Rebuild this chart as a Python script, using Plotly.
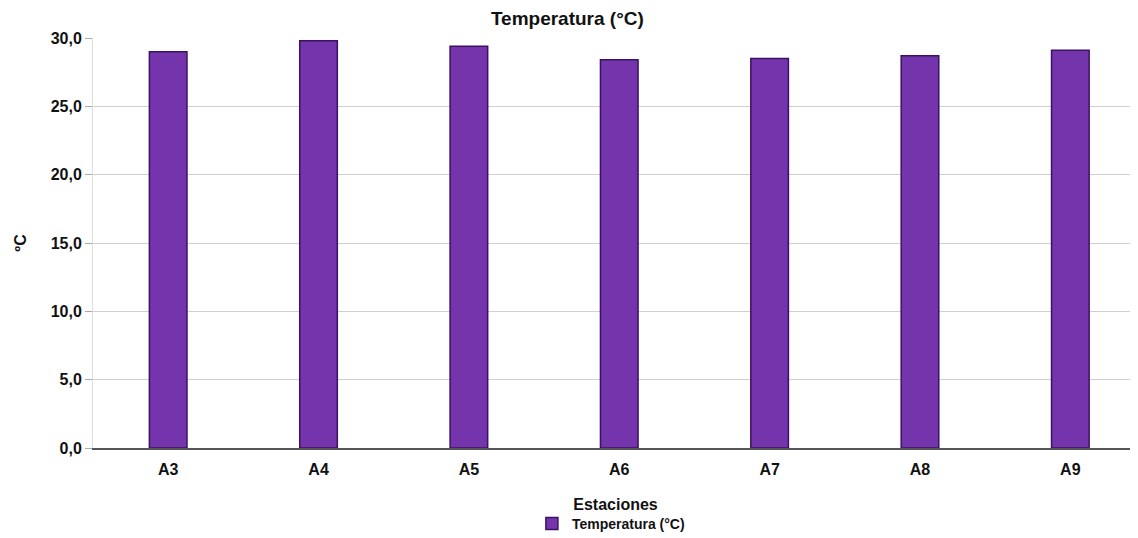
import plotly.graph_objects as go

stations = ["A3", "A4", "A5", "A6", "A7", "A8", "A9"]
temperature = [29.0, 29.8, 29.4, 28.4, 28.5, 28.7, 29.1]
y_ticks = [0, 5, 10, 15, 20, 25, 30]

FONT = "Liberation Sans, Arial, sans-serif"

fig = go.Figure()
fig.add_trace(go.Bar(
    x=stations, y=temperature, name="Temperatura (°C)",
    width=0.25,
    marker=dict(color="#7434ac", line=dict(color="#3b1263", width=1.5)),
))

fig.update_layout(
    width=1130, height=530,
    margin=dict(l=85, r=0, t=30, b=90, autoexpand=False),
    paper_bgcolor="white", plot_bgcolor="white",
    separators=",.",
    font=dict(family=FONT, size=15, color="#111111"),
    title=dict(text="Temperatura (°C)", x=0.495, xanchor="center",
               y=0.981, yanchor="middle",
               font=dict(size=19, family=FONT, weight="bold")),
    showlegend=True,
    legend=dict(orientation="h", x=0.42, xanchor="left", y=-0.185, yanchor="middle",
                font=dict(size=14, family=FONT, weight="bold"), itemwidth=30,
                bgcolor="rgba(0,0,0,0)"),
)
fig.update_xaxes(
    range=[-0.5, 6.45], showgrid=False, showline=True, linecolor="#555555", linewidth=1.5,
    tickfont=dict(size=16, family=FONT, weight="bold"), ticks="", ticklabelstandoff=6,
    automargin=False,
    title=dict(text="Estaciones", font=dict(size=16, family=FONT, weight="bold"), standoff=22),
)
fig.update_yaxes(
    range=[0, 30], tickvals=y_ticks, tickformat=".1f",
    showgrid=True, gridcolor="#d0d0d0", gridwidth=1,
    zeroline=False, showline=True, linecolor="#dddddd", linewidth=1,
    ticks="outside", ticklen=7, tickcolor="#aaaaaa",
    tickfont=dict(size=16, family=FONT, weight="bold"),
    automargin=False,
    title=dict(text="ºC", font=dict(size=16, family=FONT, weight="bold"), standoff=20),
)

fig.write_html("out.html")
